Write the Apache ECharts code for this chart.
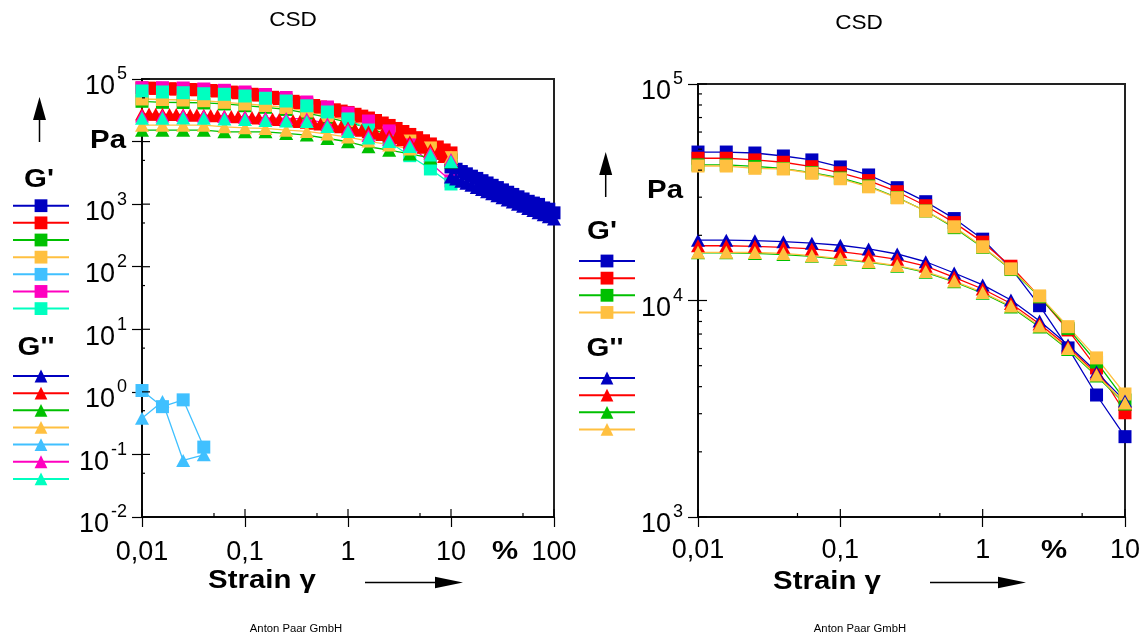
<!DOCTYPE html>
<html><head><meta charset="utf-8">
<script src="https://cdn.jsdelivr.net/npm/echarts@6/dist/echarts.min.js"></script>
<style>html,body{margin:0;padding:0;background:#fff}#c{width:1144px;height:637px}</style>
</head><body><div id="c"></div>
<script>
// ---------- strain values (%) ----------
const strainSparse = [0.01, 0.0158, 0.0251, 0.0398, 0.0631, 0.1, 0.158, 0.251, 0.398, 0.631, 1, 1.58, 2.51, 3.98, 6.31, 10];
const strainDense = [0.01, 0.0117, 0.0136, 0.0158, 0.0185, 0.0215, 0.0251, 0.0293, 0.0341, 0.0398,
  0.0464, 0.0541, 0.0631, 0.0736, 0.0858, 0.1, 0.117, 0.136, 0.158, 0.185,
  0.215, 0.251, 0.293, 0.341, 0.398, 0.464, 0.541, 0.631, 0.736, 0.858,
  1, 1.17, 1.36, 1.58, 1.85, 2.15, 2.51, 2.93, 3.41, 3.98,
  4.64, 5.41, 6.31, 7.36, 8.58, 10];
const strainBlueTail = [10, 11.2, 12.6, 14.1, 15.8, 17.8, 20, 22.4, 25.1, 28.2, 31.6, 35.5, 39.8, 44.7, 50.1, 56.2, 63.1, 70.8, 79.4, 89.1, 100];
const strainLightBlue = [0.01, 0.0158, 0.0251, 0.0398];

// ---------- left chart (Pa) ----------
const leftGpBlue = [3930, 3610, 3320, 3050, 2800, 2580, 2370, 2180, 2000, 1840, 1690, 1550, 1430, 1310, 1210, 1110, 1040, 990, 870, 830, 726];
const leftGpRed = [71800, 71300, 70800, 70200, 69700, 69200, 68700, 68000, 67200, 66500,
  65500, 64300, 63100, 61800, 60200, 58700, 57000, 55300, 53500, 51000,
  48600, 46200, 44000, 42000, 39900, 37700, 35700, 33800, 32200, 30700,
  29200, 27300, 25500, 23800, 21700, 19800, 18100, 16200, 14500, 13000,
  11550, 10300, 9160, 8200, 7340, 6580];
const leftGpGreen = [44000, 42400, 42100, 41400, 39900, 37400, 35300, 32600, 28600, 24300, 20200, 16500, 12700, 9500, 7070, 5080];
const leftGpOrange = [47900, 47000, 46200, 45000, 42400, 39900, 37700, 35000, 30800, 26100, 21700, 17700, 13900, 10200, 7910, 5530];
const leftGpLightBlue = [1.05, 0.58, 0.745, 0.131];
const leftGpMagenta = [72600, 72600, 71800, 69200, 66000, 62000, 56500, 50600, 42900, 35700, 28600, 21300, 14800, 8830, 4550, 2350];
const leftGpTurq = [64300, 62000, 60400, 58200, 57000, 53500, 49200, 44500, 37300, 29700, 23000, 15300, 9860, 5950, 3650, 2100];

const leftGppBlue = [2720, 2520, 2330, 2160, 2000, 1850, 1710, 1580, 1470, 1360, 1260, 1160, 1080, 997, 923, 854, 790, 731, 676, 626, 580];
const leftGppRed = [27600, 27500, 27400, 27300, 27200, 27100, 26900, 26700, 26500, 26300,
  26100, 25800, 25500, 25200, 24900, 24700, 24300, 23800, 23400, 23000,
  22500, 22100, 21500, 20900, 20300, 19700, 19100, 18500, 17800, 17200,
  16500, 15800, 15100, 14400, 13700, 13000, 12300, 11500, 10700, 9850,
  8960, 8140, 7340, 6530, 5780, 5080];
const leftGppGreen = [15200, 15200, 15200, 15200, 14300, 14300, 14300, 13500, 12700, 11200, 9930, 8260, 7290, 6340, 5470, 4720];
const leftGppOrange = [18300, 18300, 18300, 18300, 17200, 16600, 16200, 15200, 14500, 13200, 11800, 10200, 8830, 7620, 6580, 5680];
const leftGppLightBlue = [0.38, 0.70, 0.080, 0.0986];
const leftGppMagenta = [25600, 25600, 26100, 25600, 25200, 24700, 23800, 23400, 23000, 19100, 15900, 12500, 10800, 8990, 6580, 5180];
const leftGppTurq = [23600, 23600, 23800, 23600, 23000, 22500, 21700, 21300, 20900, 17400, 14500, 11400, 10000, 8350, 6110, 4810];

// ---------- right chart (Pa) ----------
const rightGpBlue = [48500, 48500, 48000, 46500, 44600, 41400, 38000, 33200, 28600, 23900, 19200, 14100, 9460, 6040, 3660, 2350];
const rightGpRed = [45400, 45400, 44600, 43500, 41500, 38900, 35800, 31800, 27400, 22900, 18600, 14400, 10400, 7310, 4880, 3030];
const rightGpGreen = [42300, 42300, 41600, 40700, 39000, 36800, 33800, 29900, 25900, 21700, 17600, 13900, 10400, 7430, 5200, 3470];
const rightGpOrange = [41800, 41800, 40800, 40500, 38700, 36500, 33500, 29800, 25900, 21900, 17700, 14000, 10500, 7570, 5430, 3700];
const rightGppBlue = [19000, 19000, 18900, 18700, 18400, 18000, 17300, 16400, 15100, 13400, 11800, 10050, 8040, 6230, 4670, 3430];
const rightGppRed = [17900, 17900, 17800, 17600, 17300, 16800, 16200, 15500, 14400, 12800, 11300, 9690, 7790, 6100, 4580, 3330];
const rightGppGreen = [16600, 16600, 16500, 16300, 16000, 15500, 15000, 14400, 13500, 12200, 10800, 9330, 7540, 5940, 4480, 3330];
const rightGppOrange = [16700, 16700, 16660, 16500, 16100, 15600, 15100, 14500, 13600, 12300, 10900, 9430, 7620, 6000, 4530, 3360];

// ---------- ticks / labels ----------
const leftXTicks = [0.01, 0.1, 1, 10, 100];
const leftXTickLabels = ['0,01', '0,1', '1', '10', '100'];
const leftXMinor = [0.05, 0.5, 5, 50];
const leftYTicks = [0.01, 0.1, 1, 10, 100, 1000, 10000, 100000];
const leftYHiddenLabel = [4];          // exponent whose label is replaced by "Pa"
const leftYMinor = [0.05, 0.5, 5, 50, 500, 5000, 50000];
const rightXTicks = [0.01, 0.1, 1, 10];
const rightXTickLabels = ['0,01', '0,1', '1', '10'];
const rightXMinor = [0.05, 0.5, 5];
const rightYTicks = [1000, 10000, 100000];
const rightYMinor = [2000, 3000, 4000, 5000, 6000, 7000, 8000, 9000, 20000, 30000, 40000, 50000, 60000, 70000, 80000, 90000];

const C = {blue:'#0000C0', red:'#FF0000', green:'#00C000', orange:'#FFC040', lightblue:'#40C0FF', magenta:'#FF00C0', turq:'#00FFC0'};
const FONT = 'Liberation Sans, Arial, sans-serif';
const SX = 1.13; // horizontal stretch of the original lettering

function ser(name, xs, ys, color, symbol, idx) {
  return {
    type: 'line', name, xAxisIndex: idx, yAxisIndex: idx,
    data: xs.map((x, i) => [x, ys[i]]),
    symbol, symbolSize: symbol === 'rect' ? 13 : [14, 13],
    showSymbol: true, showAllSymbol: true,
    lineStyle: {color, width: 1.3}, itemStyle: {color},
    emphasis: {disabled: true}, animation: false, z: 3
  };
}
function ticks(idx, dim, vals, other, len) {
  return {
    type: 'custom', xAxisIndex: idx, yAxisIndex: idx, silent: true, clip: false, z: 10,
    animation: false,
    data: vals.map(v => dim === 'x' ? [v, other] : [other, v]),
    renderItem: (p, api) => {
      const c = api.coord([api.value(0), api.value(1)]);
      return {type: 'line',
        shape: dim === 'x' ? {x1: c[0], y1: c[1], x2: c[0], y2: c[1] - len} : {x1: c[0], y1: c[1], x2: c[0] + len, y2: c[1]},
        style: {stroke: '#000', lineWidth: 1.2}};
    }
  };
}

const series = [
  ser('LGp blue', strainBlueTail, leftGpBlue, C.blue, 'rect', 0),
  ser('LGp red', strainDense, leftGpRed, C.red, 'rect', 0),
  ser('LGp green', strainSparse, leftGpGreen, C.green, 'rect', 0),
  ser('LGp orange', strainSparse, leftGpOrange, C.orange, 'rect', 0),
  ser('LGp lightblue', strainLightBlue, leftGpLightBlue, C.lightblue, 'rect', 0),
  ser('LGp magenta', strainSparse, leftGpMagenta, C.magenta, 'rect', 0),
  ser('LGp turq', strainSparse, leftGpTurq, C.turq, 'rect', 0),
  ser('LGpp blue', strainBlueTail, leftGppBlue, C.blue, 'triangle', 0),
  ser('LGpp red', strainDense, leftGppRed, C.red, 'triangle', 0),
  ser('LGpp green', strainSparse, leftGppGreen, C.green, 'triangle', 0),
  ser('LGpp orange', strainSparse, leftGppOrange, C.orange, 'triangle', 0),
  ser('LGpp lightblue', strainLightBlue, leftGppLightBlue, C.lightblue, 'triangle', 0),
  ser('LGpp magenta', strainSparse, leftGppMagenta, C.magenta, 'triangle', 0),
  ser('LGpp turq', strainSparse, leftGppTurq, C.turq, 'triangle', 0),
  ser('RGp blue', strainSparse, rightGpBlue, C.blue, 'rect', 1),
  ser('RGp red', strainSparse, rightGpRed, C.red, 'rect', 1),
  ser('RGp green', strainSparse, rightGpGreen, C.green, 'rect', 1),
  ser('RGp orange', strainSparse, rightGpOrange, C.orange, 'rect', 1),
  ser('RGpp blue', strainSparse, rightGppBlue, C.blue, 'triangle', 1),
  ser('RGpp red', strainSparse, rightGppRed, C.red, 'triangle', 1),
  ser('RGpp green', strainSparse, rightGppGreen, C.green, 'triangle', 1),
  ser('RGpp orange', strainSparse, rightGppOrange, C.orange, 'triangle', 1),
  // inner parts of major ticks and minor ticks
  ticks(0, 'x', leftXTicks, 0.01, 8), ticks(0, 'x', leftXMinor, 0.01, 4),
  ticks(0, 'y', leftYTicks, 0.01, 8), ticks(0, 'y', leftYMinor, 0.01, 3),
  ticks(1, 'x', rightXTicks, 1000, 8), ticks(1, 'x', rightXMinor, 1000, 4),
  ticks(1, 'y', rightYTicks, 0.01, 9), ticks(1, 'y', rightYMinor, 0.01, 4)
];

const yRich = {
  b: {fontSize: 27, fontFamily: FONT, color: '#000', lineHeight: 27, padding: [16, 2, 0, 0]},
  e: {fontSize: 18, fontFamily: FONT, color: '#000', lineHeight: 18, verticalAlign: 'top'}
};
function yAx(idx, min, max, hidden) {
  return {type: 'log', logBase: 10, gridIndex: idx, min, max, interval: 1,
    axisLine: {show: true, lineStyle: {color: '#000', width: 1.5}},
    axisTick: {show: true, inside: false, length: 10, lineStyle: {color: '#000', width: 1.2}},
    minorTick: {show: false}, splitLine: {show: false},
    axisLabel: {margin: 15, rich: yRich, color: '#000',
      formatter: v => {
        const e = Math.round(Math.log10(v));
        return hidden.indexOf(e) >= 0 ? '' : '{b|10}{e|' + e + '}';
      }}};
}
function xAx(idx, min, max, labels, margin) {
  return {type: 'log', logBase: 10, gridIndex: idx, min, max, interval: 1,
    axisLine: {show: true, lineStyle: {color: '#000', width: 1.5}},
    axisTick: {show: true, inside: false, length: 10, lineStyle: {color: '#000', width: 1.2}},
    minorTick: {show: false}, splitLine: {show: false},
    axisLabel: {margin, fontSize: 27, fontFamily: FONT, color: '#000',
      formatter: v => labels[Math.round(Math.log10(v)) + 2]}};
}
function legend(names, left, top) {
  return {orient: 'vertical', left, top, padding: 0, itemWidth: 56, itemHeight: 16, itemGap: 2.75,
    data: names, selectedMode: false, formatter: () => '', textStyle: {fontSize: 2}};
}
function txt(x, y, text, size, bold, sx) {
  return {type: 'text', x, y, silent: true, z: 20, scaleX: sx || SX,
    style: {text, fill: '#000', font: (bold ? 'bold ' : '') + size + 'px ' + FONT,
      align: 'center', verticalAlign: 'middle', textAlign: 'center', textVerticalAlign: 'middle'}};
}
function arrowUp(x, yTop, yBase, yEnd) {
  return [
    {type: 'line', silent: true, shape: {x1: x, y1: yBase, x2: x, y2: yEnd}, style: {stroke: '#000', lineWidth: 1.5}},
    {type: 'polygon', silent: true, shape: {points: [[x - 6.5, yBase], [x + 6.5, yBase], [x, yTop]]}, style: {fill: '#000'}}
  ];
}
function arrowRight(x0, xBase, xTip, y) {
  return [
    {type: 'line', silent: true, shape: {x1: x0, y1: y, x2: xBase, y2: y}, style: {stroke: '#000', lineWidth: 1.5}},
    {type: 'polygon', silent: true, shape: {points: [[xBase, y - 5.8], [xBase, y + 5.8], [xTip, y]]}, style: {fill: '#000'}}
  ];
}

const option = {
  backgroundColor: '#fff',
  animation: false,
  grid: [
    {left: 142, top: 79, width: 412, height: 438, show: true, borderColor: '#222', borderWidth: 2, backgroundColor: 'transparent'},
    {left: 698, top: 84, width: 427, height: 433, show: true, borderColor: '#222', borderWidth: 2, backgroundColor: 'transparent'}
  ],
  xAxis: [xAx(0, 0.01, 100, leftXTickLabels, 22), xAx(1, 0.01, 10, rightXTickLabels, 20)],
  yAxis: [yAx(0, 0.01, 100000, leftYHiddenLabel), yAx(1, 1000, 100000, [])],
  legend: [
    legend(['LGp blue', 'LGp red', 'LGp green', 'LGp orange', 'LGp lightblue', 'LGp magenta', 'LGp turq'], 12, 197.7),
    legend(['LGpp blue', 'LGpp red', 'LGpp green', 'LGpp orange', 'LGpp lightblue', 'LGpp magenta', 'LGpp turq'], 12, 368),
    legend(['RGp blue', 'RGp red', 'RGp green', 'RGp orange'], 578, 253),
    legend(['RGpp blue', 'RGpp red', 'RGpp green', 'RGpp orange'], 578, 370)
  ],
  graphic: [
    txt(293, 20, 'CSD', 20, false),
    txt(859, 23, 'CSD', 20, false),
    txt(108, 141, 'Pa', 26, true),
    txt(665, 191, 'Pa', 26, true),
    txt(39, 180, "G'", 26, true),
    txt(36, 348, "G''", 26, true),
    txt(602, 232, "G'", 26, true),
    txt(605, 349, "G''", 26, true),
    txt(505, 552, '%', 26, true),
    txt(1054, 551, '%', 26, true),
    txt(262, 581, 'Strain γ', 26, true),
    txt(827, 582, 'Strain γ', 26, true),
    txt(296, 629, 'Anton Paar GmbH', 10, false),
    txt(860, 629, 'Anton Paar GmbH', 10, false),
    ...arrowUp(39.5, 97, 120, 142),
    ...arrowUp(605.7, 152, 175, 197),
    ...arrowRight(365, 435, 463, 582.5),
    ...arrowRight(930, 998, 1026, 582.5)
  ],
  series
};
const chart = echarts.init(document.getElementById('c'));
chart.setOption(option);
</script>
</body></html>
